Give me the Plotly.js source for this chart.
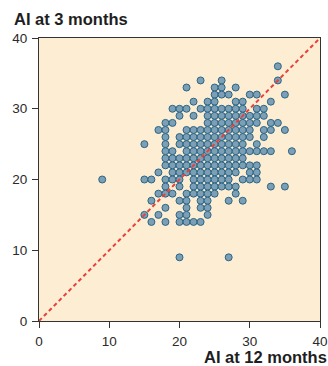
<!DOCTYPE html>
<html>
<head>
<meta charset="utf-8">
<script src="https://cdn.plot.ly/plotly-3.0.1.min.js"></script>
<style>
html,body{margin:0;padding:0;background:#fff;}
#chart{width:328px;height:366px;}
</style>
</head>
<body>
<div id="chart"></div>
<script>
// AI at 3 months (y) for each row, and the AI at 12 months values (x) found on that row
const ai3Rows = [36, 34, 33, 32, 31, 30, 29, 28, 27, 26, 25, 24, 23, 22, 21, 20, 19, 18, 17, 16, 15, 14, 9];
const ai12ByRow = [
  [34],
  [23, 26, 34],
  [21, 25, 26, 28],
  [25, 26, 27, 30, 31, 35],
  [22, 24, 25, 28, 29, 33],
  [19, 20, 21, 23, 24, 25, 26, 27, 28, 29, 31, 32],
  [20, 22, 24, 25, 26, 27, 28, 29, 30, 31, 32],
  [18, 19, 24, 25, 26, 27, 28, 29, 30, 31, 33, 34],
  [17, 18, 21, 22, 23, 24, 25, 26, 27, 28, 29, 30, 32, 33, 35],
  [18, 20, 21, 22, 23, 24, 25, 26, 27, 28, 29, 30, 32],
  [15, 18, 20, 21, 22, 23, 24, 25, 26, 27, 28, 29, 31],
  [18, 19, 21, 22, 23, 24, 25, 26, 27, 28, 29, 30, 31, 32, 33, 36],
  [18, 19, 20, 21, 22, 23, 24, 25, 26, 27, 28, 29],
  [18, 19, 20, 21, 22, 23, 24, 25, 26, 27, 28, 29, 30, 31],
  [17, 19, 20, 21, 22, 23, 24, 25, 26, 27, 28, 30, 31],
  [9, 15, 16, 18, 19, 20, 22, 23, 24, 25, 26, 27, 29, 30, 31],
  [18, 20, 22, 23, 24, 25, 26, 27, 28, 33, 35],
  [17, 18, 19, 21, 22, 23, 24, 25, 28],
  [16, 20, 21, 23, 24, 27, 29],
  [18, 21, 23, 24],
  [15, 17, 20, 21, 24],
  [16, 18, 20, 21, 22, 23],
  [20, 27]
];
const axisRange = [0, 40];
const tickVals = [0, 10, 20, 30, 40];
const xTitle = "AI at 12 months";
const yTitle = "AI at 3 months";

const xs = [], ys = [];
ai3Rows.forEach((v, i) => {
  ai12ByRow[i].forEach(u => { xs.push(u); ys.push(v); });
});

const font = "'Liberation Sans', Arial, Helvetica, sans-serif";

const traces = [
  {
    x: xs, y: ys, type: "scatter", mode: "markers",
    marker: {size: 7, color: "#7d9fb6", line: {color: "#2a6585", width: 1}},
    hoverinfo: "skip", cliponaxis: false
  },
  {
    x: axisRange, y: axisRange, type: "scatter", mode: "lines",
    line: {color: "#e8403a", width: 2, dash: "4px,3px"},
    hoverinfo: "skip"
  }
];

const axisCommon = {
  range: axisRange, tickvals: tickVals, ticks: "outside", ticklen: 6, tickwidth: 1,
  tickcolor: "#333", showline: true, linecolor: "#333", linewidth: 1, mirror: true,
  showgrid: false, zeroline: false, fixedrange: true,
  tickfont: {family: font, size: 13.5, color: "#2a2a2a", weight: 500}
};

const layout = {
  width: 328, height: 366,
  margin: {l: 39, r: 8, t: 38, b: 45},
  paper_bgcolor: "#ffffff",
  plot_bgcolor: "#fdeed3",
  showlegend: false,
  xaxis: Object.assign({}, axisCommon, {ticklabelstandoff: 2}),
  yaxis: Object.assign({}, axisCommon, {ticklabelstandoff: 2}),
  annotations: [
    {text: yTitle, xref: "paper", yref: "paper", x: -0.097, y: 1.068,
     xanchor: "left", yanchor: "middle", showarrow: false,
     font: {family: font, size: 16.5, color: "#1e1e1e", weight: "bold"}},
    {text: xTitle, xref: "paper", yref: "paper", x: 0.581, y: -0.128,
     xanchor: "left", yanchor: "middle", showarrow: false,
     font: {family: font, size: 16.5, color: "#1e1e1e", weight: "bold"}}
  ]
};

Plotly.newPlot("chart", traces, layout, {displayModeBar: false, staticPlot: true});
</script>
</body>
</html>
